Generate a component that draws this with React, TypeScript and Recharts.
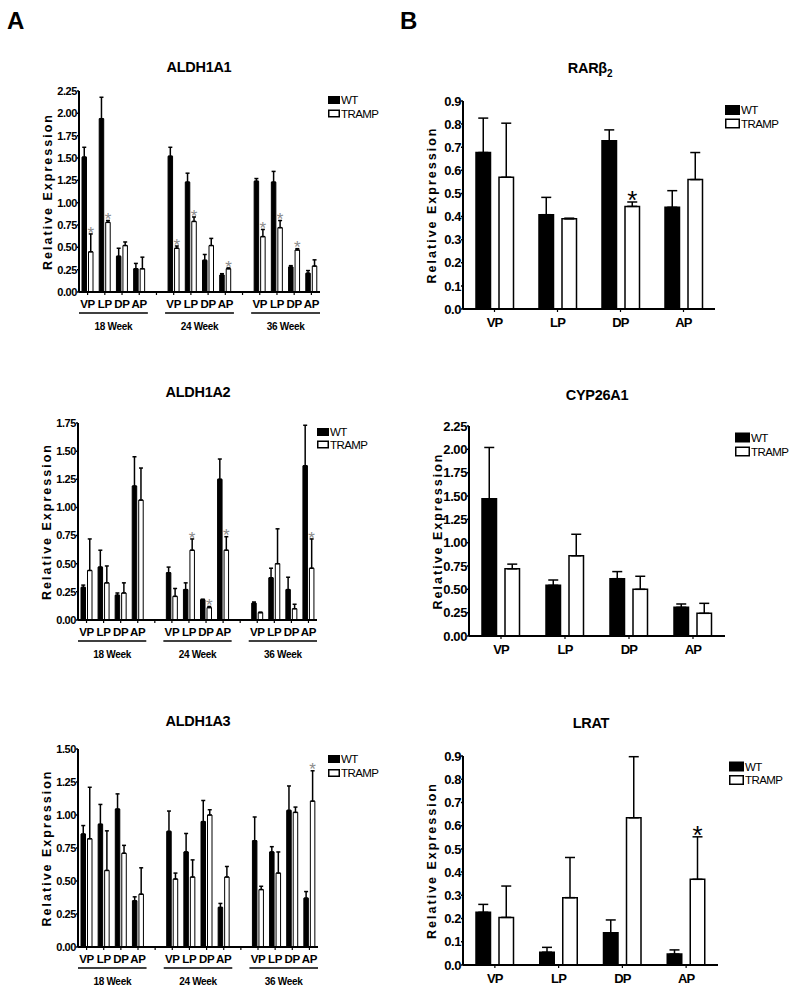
import React from "react";
import { BarChart, Bar, XAxis, YAxis, ErrorBar, LabelList, Label } from "recharts";

const FONT = '"Liberation Sans", Arial, Helvetica, sans-serif';

const tissues = ["VP", "LP", "DP", "AP"];
const weeks = ["18 Week", "24 Week", "36 Week"];
const legendNames = ["WT", "TRAMP"];
const yLabel = "Relative Expression";

// panel A: 18, 24, 36 week x VP, LP, DP, AP
const a1Wt = [1.51, 1.94, 0.4, 0.26, 1.52, 1.23, 0.355, 0.19, 1.24, 1.23, 0.28, 0.21];
const a1WtSem = [0.11, 0.24, 0.09, 0.06, 0.1, 0.1, 0.065, 0.015, 0.03, 0.12, 0.015, 0.03];
const a1Tramp = [0.45, 0.78, 0.52, 0.26, 0.49, 0.79, 0.52, 0.26, 0.62, 0.72, 0.47, 0.29];
const a1TrampSem = [0.2, 0.02, 0.04, 0.13, 0.025, 0.05, 0.08, 0.01, 0.08, 0.08, 0.015, 0.07];
const a1Sig = [1, 1, 0, 0, 1, 1, 0, 1, 1, 1, 1, 0];

const a2Wt = [0.29, 0.47, 0.22, 1.19, 0.42, 0.27, 0.18, 1.25, 0.15, 0.375, 0.27, 1.37];
const a2WtSem = [0.02, 0.15, 0.02, 0.26, 0.05, 0.06, 0.005, 0.18, 0.01, 0.085, 0.11, 0.36];
const a2Tramp = [0.44, 0.33, 0.24, 1.065, 0.21, 0.62, 0.11, 0.62, 0.065, 0.5, 0.1, 0.46];
const a2TrampSem = [0.28, 0.15, 0.09, 0.285, 0.07, 0.1, 0.01, 0.12, 0.005, 0.31, 0.04, 0.26];
const a2Sig = [0, 0, 0, 0, 0, 1, 1, 1, 0, 0, 0, 1];

const a3Wt = [0.856, 0.93, 1.045, 0.35, 0.876, 0.72, 0.95, 0.3, 0.805, 0.72, 1.035, 0.37];
const a3WtSem = [0.064, 0.15, 0.115, 0.03, 0.154, 0.14, 0.16, 0.03, 0.18, 0.04, 0.185, 0.05];
const a3Tramp = [0.82, 0.58, 0.71, 0.4, 0.515, 0.53, 1.0, 0.53, 0.435, 0.56, 1.02, 1.105];
const a3TrampSem = [0.39, 0.3, 0.06, 0.2, 0.045, 0.13, 0.04, 0.08, 0.025, 0.16, 0.04, 0.23];
const a3Sig = [0, 0, 0, 0, 0, 0, 0, 0, 0, 0, 0, 1];

// panel B: VP, LP, DP, AP
const rarWt = [0.677, 0.408, 0.728, 0.44];
const rarWtSem = [0.149, 0.075, 0.047, 0.072];
const rarTramp = [0.57, 0.39, 0.444, 0.56];
const rarTrampSem = [0.234, 0.003, 0.019, 0.117];
const rarSig = [0, 0, 1, 0];

const cypWt = [1.47, 0.543, 0.614, 0.307];
const cypWtSem = [0.55, 0.057, 0.076, 0.036];
const cypTramp = [0.72, 0.86, 0.5, 0.243];
const cypTrampSem = [0.05, 0.23, 0.14, 0.107];
const cypSig = [0, 0, 0, 0];

const lratWt = [0.227, 0.055, 0.139, 0.047];
const lratWtSem = [0.034, 0.021, 0.055, 0.018];
const lratTramp = [0.205, 0.29, 0.634, 0.369];
const lratTrampSem = [0.135, 0.173, 0.263, 0.183];
const lratSig = [0, 0, 0, 1];

const ticksA1 = [0, 0.25, 0.5, 0.75, 1, 1.25, 1.5, 1.75, 2, 2.25];
const ticksA2 = [0, 0.25, 0.5, 0.75, 1, 1.25, 1.5, 1.75];
const ticksA3 = [0, 0.25, 0.5, 0.75, 1, 1.25, 1.5];
const ticksTenth = [0, 0.1, 0.2, 0.3, 0.4, 0.5, 0.6, 0.7, 0.8, 0.9];
const ticksCyp = [0, 0.25, 0.5, 0.75, 1, 1.25, 1.5, 1.75, 2, 2.25];

// star = error length as a share of the bar height, only where significant
function makeRow(slot: string, wt: number, wSem: number, tramp: number, tSem: number, sig: number) {
  return {
    slot,
    wt,
    tramp,
    wtErr: [0, wSem],
    trampErr: [0, tSem],
    star: sig ? tSem / tramp : null,
  };
}

function groupedRows(wt: number[], wtSem: number[], tramp: number[], trampSem: number[], sig: number[]) {
  const rows: any[] = [];
  weeks.forEach((week, g) => {
    if (g > 0) rows.push({ slot: `gap${g}`, wt: null, tramp: null, wtErr: null, trampErr: null, star: null });
    tissues.forEach((t, k) => {
      const i = g * 4 + k;
      rows.push(makeRow(`${week}|${t}`, wt[i], wtSem[i], tramp[i], trampSem[i], sig[i]));
    });
  });
  return rows;
}

function simpleRows(wt: number[], wtSem: number[], tramp: number[], trampSem: number[], sig: number[]) {
  return tissues.map((t, i) => makeRow(t, wt[i], wtSem[i], tramp[i], trampSem[i], sig[i]));
}

const Y_W = 60;
const M_T = 12;
const M_R = 6;
const X_H = 48;

function Panel(p: any) {
  const axisY = M_T + p.H;
  const slotW = p.W / p.data.length;
  const axisStyle = { stroke: "#000", strokeWidth: 2 };

  const groupTick = (props: any) => {
    const { x, payload } = props;
    const v = String(payload.value);
    if (v.startsWith("gap")) return <g />;
    const [week, tissue] = v.split("|");
    const first = tissue === tissues[0];
    return (
      <g>
        <text x={x} y={axisY + 16} textAnchor="middle" fontFamily={FONT} fontWeight={700} fontSize={11.5} letterSpacing={-0.3} fill="#000">
          {tissue}
        </text>
        {first && (
          <>
            <line x1={x - slotW / 2} x2={x + 3.5 * slotW} y1={axisY + 21} y2={axisY + 21} stroke="#000" strokeWidth={1.3} />
            <text x={x + 1.5 * slotW} y={axisY + 38} textAnchor="middle" fontFamily={FONT} fontWeight={700} fontSize={10} letterSpacing={-0.3} fill="#000">
              {week}
            </text>
          </>
        )}
      </g>
    );
  };

  const simpleTick = (props: any) => (
    <text x={props.x} y={axisY + 18} textAnchor="middle" fontFamily={FONT} fontWeight={700} fontSize={13} letterSpacing={-0.8} fill="#000">
      {props.payload.value}
    </text>
  );

  const star = (props: any) => {
    const { x, y, width, height, value } = props;
    if (value === null || value === undefined || value === "") return null;
    const errTop = y - Number(value) * height;
    const cy = errTop - p.starLift;
    return (
      <text x={x + width / 2} y={cy + p.starSize * 0.57} textAnchor="middle" fontFamily={FONT} fontSize={p.starSize} fill={p.starColor}>
        *
      </text>
    );
  };

  const yLab = (props: any) => {
    const vb = props.viewBox;
    const cx = Y_W - 31;
    const cy = vb.y + vb.height / 2;
    return (
      <text x={cx} y={cy} transform={`rotate(-90 ${cx} ${cy})`} textAnchor="middle" dominantBaseline="central" fontFamily={FONT} fontWeight={700} fontSize={12.5} letterSpacing={2} fill="#000">
        {yLabel}
      </text>
    );
  };

  return (
    <div style={{ position: "absolute", left: p.L - Y_W, top: p.T - M_T }}>
      <BarChart
        width={Y_W + p.W + M_R}
        height={M_T + p.H + X_H}
        data={p.data}
        margin={{ top: M_T, right: M_R, left: 0, bottom: 0 }}
        barSize={p.barSize}
        barGap={p.barGap}
      >
        <XAxis
          dataKey="slot"
          interval={0}
          height={X_H}
          axisLine={axisStyle}
          tickLine={{ stroke: "#000", strokeWidth: 1.2 }}
          tickSize={3}
          tick={p.grouped ? groupTick : simpleTick}
        />
        <YAxis
          width={Y_W}
          type="number"
          domain={[0, p.ticks[p.ticks.length - 1]]}
          ticks={p.ticks}
          interval={0}
          tickFormatter={(v: number) => v.toFixed(p.digits)}
          axisLine={axisStyle}
          tickLine={{ stroke: "#000", strokeWidth: 1.5 }}
          tickSize={2}
          tickMargin={0}
          tick={{ fill: "#000", fontSize: p.tickFont, fontWeight: 700, fontFamily: FONT, letterSpacing: -0.4 }}
        >
          <Label content={yLab} />
        </YAxis>
        <Bar dataKey="wt" fill="#000" stroke="#000" strokeWidth={p.barStroke} isAnimationActive={false}>
          <ErrorBar dataKey="wtErr" width={p.cap} stroke="#000" strokeWidth={1.5} direction="y" isAnimationActive={false} />
        </Bar>
        <Bar dataKey="tramp" fill="#fff" stroke="#000" strokeWidth={p.barStroke} isAnimationActive={false}>
          <ErrorBar dataKey="trampErr" width={p.cap} stroke="#000" strokeWidth={1.5} direction="y" isAnimationActive={false} />
          <LabelList dataKey="star" content={star} />
        </Bar>
      </BarChart>
    </div>
  );
}

const groupedStyle = { grouped: true, barSize: 4.5, barGap: 2, barStroke: 1, cap: 2, starSize: 17, starColor: "#8c8c8c", starLift: 5, tickFont: 11, digits: 2 };
const simpleStyle = { grouped: false, barSize: 14.5, barGap: 8.5, barStroke: 1.5, cap: 5, starSize: 26, starColor: "#000", starLift: 8, tickFont: 13 };

const panels = [
  { id: "a1", L: 79, T: 91, W: 241, H: 201, ticks: ticksA1, data: groupedRows(a1Wt, a1WtSem, a1Tramp, a1TrampSem, a1Sig), ...groupedStyle },
  { id: "a2", L: 78, T: 423, W: 239, H: 197, ticks: ticksA2, data: groupedRows(a2Wt, a2WtSem, a2Tramp, a2TrampSem, a2Sig), ...groupedStyle },
  { id: "a3", L: 78, T: 749, W: 240, H: 198, ticks: ticksA3, data: groupedRows(a3Wt, a3WtSem, a3Tramp, a3TrampSem, a3Sig), ...groupedStyle },
  { id: "b1", L: 463, T: 101, W: 252, H: 208, ticks: ticksTenth, digits: 1, data: simpleRows(rarWt, rarWtSem, rarTramp, rarTrampSem, rarSig), ...simpleStyle },
  { id: "b2", L: 469, T: 426, W: 256, H: 210, ticks: ticksCyp, digits: 2, data: simpleRows(cypWt, cypWtSem, cypTramp, cypTrampSem, cypSig), ...simpleStyle },
  { id: "b3", L: 463, T: 756, W: 255, H: 209, ticks: ticksTenth, digits: 1, data: simpleRows(lratWt, lratWtSem, lratTramp, lratTrampSem, lratSig), ...simpleStyle },
];

const titles = [
  { text: "ALDH1A1", x: 199, y: 72 },
  { text: "ALDH1A2", x: 198, y: 397 },
  { text: "ALDH1A3", x: 198, y: 726 },
  { text: "CYP26A1", x: 597, y: 400 },
  { text: "LRAT", x: 591, y: 728 },
];

const legends = [
  { x: 328, y1: 100, y2: 113.5, w: 12, h: 8 },
  { x: 317, y1: 432, y2: 444.5, w: 12, h: 8 },
  { x: 328, y1: 759, y2: 773, w: 12, h: 8 },
  { x: 725, y1: 110, y2: 123.5, w: 15, h: 10 },
  { x: 735, y1: 437.5, y2: 451.5, w: 15, h: 10 },
  { x: 729, y1: 766.5, y2: 780, w: 15, h: 10 },
];

function LegendKey({ x, y1, y2, w, h }: any) {
  const txt = { fontFamily: FONT, fontSize: 11.5, letterSpacing: -0.6, fill: "#000" };
  return (
    <g>
      <rect x={x} y={y1 - h / 2} width={w} height={h} fill="#000" />
      <text x={x + w + 1} y={y1 + 4} {...txt}>{legendNames[0]}</text>
      <rect x={x + 0.75} y={y2 - h / 2 + 0.75} width={w - 1.5} height={h - 1.5} fill="#fff" stroke="#000" strokeWidth={1.5} />
      <text x={x + w + 1} y={y2 + 4} {...txt}>{legendNames[1]}</text>
    </g>
  );
}

export default function App() {
  const titleStyle = { fontFamily: FONT, fontWeight: 700, fontSize: 14.5, letterSpacing: -0.3, fill: "#000" };
  return (
    <div style={{ position: "absolute", left: 0, top: 0, width: 800, height: 993, background: "#fff" }}>
      <svg width={800} height={993} style={{ position: "absolute", left: 0, top: 0 }}>
        <text x={7} y={28.5} fontFamily={FONT} fontWeight={700} fontSize={24}>A</text>
        <text x={400} y={28.5} fontFamily={FONT} fontWeight={700} fontSize={24}>B</text>
        {titles.map((t) => (
          <text key={t.text} x={t.x} y={t.y} textAnchor="middle" {...titleStyle}>{t.text}</text>
        ))}
        <text x={590} y={73} textAnchor="middle" {...titleStyle}>
          RARβ<tspan fontSize={10} dy={4}>2</tspan>
        </text>
        {legends.map((l, i) => (
          <LegendKey key={i} {...l} />
        ))}
      </svg>
      {panels.map((p) => (
        <Panel key={p.id} {...p} />
      ))}
    </div>
  );
}
